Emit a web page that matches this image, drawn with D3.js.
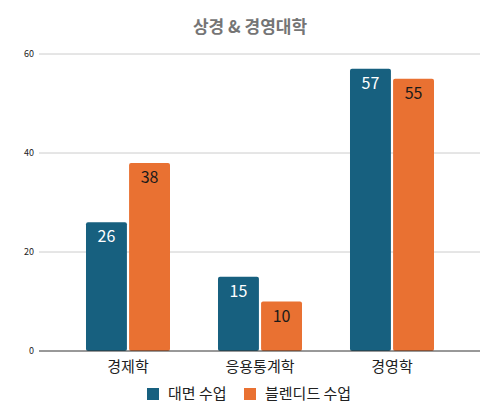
<!DOCTYPE html>
<meta charset="utf-8">
<script src="https://d3js.org/d3.v7.min.js"></script>
<style>
  body { margin: 0; background: #fff; }
  text { font-family: "Noto Sans CJK KR", "Noto Sans", sans-serif; }
</style>
<div id="chart"></div>
<script>
  // data
  const categories = ["경제학", "응용통계학", "경영학"];
  const seriesNames = ["대면 수업", "블렌디드 수업"];
  const faceToFace = [26, 15, 57];
  const blended = [38, 10, 55];
  const yTicks = [0, 20, 40, 60];

  const colors = ["#17607f", "#e97132"];
  const labelColors = ["#ffffff", "#1a1a1a"];

  const width = 500, height = 417;
  const plot = {left: 39, right: 480, top: 54, bottom: 351};

  const svg = d3.select("#chart").append("svg")
    .attr("width", width)
    .attr("height", height);

  // title
  svg.append("text")
    .attr("x", 250).attr("y", 33)
    .attr("text-anchor", "middle")
    .style("font-size", "17px").style("font-weight", "bold")
    .attr("fill", "#757575")
    .text("상경 & 경영대학");

  const y = d3.scaleLinear().domain([0, 60]).range([plot.bottom, plot.top]);

  const x0 = d3.scaleBand()
    .domain(categories)
    .range([62, 458])
    .paddingInner(0.3636)
    .paddingOuter(0.1818);

  const x1 = d3.scaleBand()
    .domain([0, 1])
    .range([0, x0.bandwidth()])
    .paddingInner(0.05);

  // gridlines + tick labels
  svg.append("g").selectAll("line")
    .data(yTicks.filter(d => d > 0))
    .join("line")
      .attr("x1", plot.left).attr("x2", plot.right)
      .attr("y1", d => y(d)).attr("y2", d => y(d))
      .attr("stroke", "#cccccc").attr("stroke-width", 1);

  svg.append("g").selectAll("text")
    .data(yTicks)
    .join("text")
      .attr("x", 34).attr("y", d => y(d) + 3)
      .attr("text-anchor", "end")
      .style("font-size", "9px")
      .attr("fill", "#222")
      .text(d => d);

  // bars
  const rows = categories.map((c, i) => ({cat: c, vals: [faceToFace[i], blended[i]]}));

  const groups = svg.append("g").selectAll("g")
    .data(rows)
    .join("g")
      .attr("transform", d => `translate(${x0(d.cat)},0)`);

  groups.selectAll("rect")
    .data(d => d.vals.map((v, k) => ({k, v})))
    .join("rect")
      .attr("x", d => x1(d.k))
      .attr("y", d => y(d.v))
      .attr("width", x1.bandwidth())
      .attr("height", d => y(0) - y(d.v))
      .attr("rx", 2)
      .attr("fill", d => colors[d.k]);

  groups.selectAll("text.val")
    .data(d => d.vals.map((v, k) => ({k, v})))
    .join("text")
      .attr("class", "val")
      .attr("x", d => x1(d.k) + x1.bandwidth() / 2)
      .attr("y", d => y(d.v) + 20)
      .attr("text-anchor", "middle")
      .style("font-size", "16px")
      .attr("fill", d => labelColors[d.k])
      .text(d => d.v);

  // baseline
  svg.append("line")
    .attr("x1", plot.left).attr("x2", plot.right)
    .attr("y1", y(0)).attr("y2", y(0))
    .attr("stroke", "#333").attr("stroke-width", 1);

  // category labels
  svg.append("g").selectAll("text")
    .data(categories)
    .join("text")
      .attr("x", d => x0(d) + x0.bandwidth() / 2)
      .attr("y", 372)
      .attr("text-anchor", "middle")
      .style("font-size", "15px")
      .attr("fill", "#222")
      .text(d => d);

  // legend
  const legendX = [147, 244];
  const legend = svg.append("g").selectAll("g")
    .data(seriesNames)
    .join("g")
      .attr("transform", (d, i) => `translate(${legendX[i]},388)`);
  legend.append("rect")
    .attr("width", 12).attr("height", 12)
    .attr("fill", (d, i) => colors[i]);
  legend.append("text")
    .attr("x", 21).attr("y", 11)
    .style("font-size", "15px")
    .attr("fill", "#222")
    .text(d => d);
</script>
